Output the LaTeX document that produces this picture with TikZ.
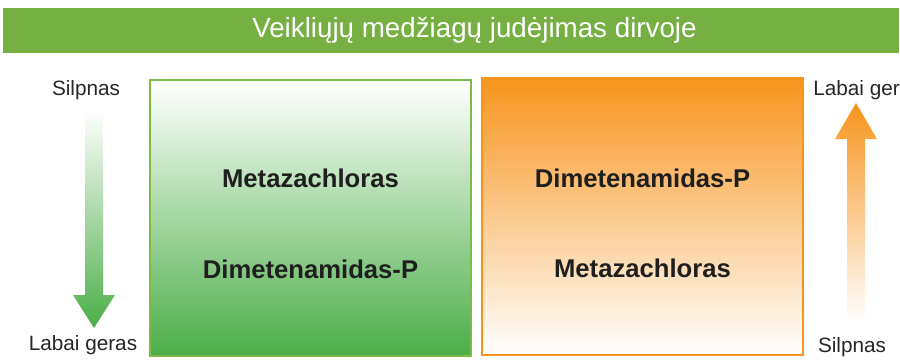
\documentclass[tikz,border=0pt]{standalone}
\usepackage{fontspec}
\setmainfont{Liberation Sans}
\usetikzlibrary{positioning}
\definecolor{barGreen}{HTML}{76B043}
\definecolor{boxGreen}{HTML}{7DBA4C}
\definecolor{fillGreen}{HTML}{4BAE47}
\definecolor{boxOrange}{HTML}{F7941D}

\begin{document}
\begin{tikzpicture}[x=0.02cm,y=-0.02cm]
		\useasboundingbox (0,0) rectangle (900,359);
		
		% title bar
		\node[fill=barGreen,minimum width=17.94cm,minimum height=0.9cm,inner sep=0] (bar) at (451,30.5) {};
		\node[text=white,font=\fontsize{15.8}{18}\selectfont] (title) at (474.5,30) {Veikliųjų medžiagų judėjimas dirvoje};
		
		% the two shaded boxes
		\node[draw=boxGreen,line width=1.2pt,top color=white,bottom color=fillGreen,minimum width=6.42cm,minimum height=5.52cm,inner sep=0] (leftbox) at (310.5,218) {};
		\node[draw=boxOrange,line width=1.2pt,top color=boxOrange,bottom color=white,minimum width=6.42cm,minimum height=5.54cm,inner sep=0] (rightbox) at (642.5,216.5) {};
		
		% substance names, top and bottom in each box
		\foreach \myname/\myx/\myy/\mytext in {lm/310.5/178/Metazachloras,ld/310.5/269/Dimetenamidas-P,rd/642.5/178/Dimetenamidas-P,rm/642.5/268/Metazachloras} {
			\node[font=\fontsize{14.6}{17}\selectfont\bfseries,text=black!88] (\myname) at (\myx,\myy) {\mytext};
		}
		
		% scale labels (the top right one runs off the edge, as in the source)
		\node[font=\fontsize{11.8}{14}\selectfont,text=black!85] (ltop) at (86,90) {Silpnas};
		\node[font=\fontsize{11.8}{14}\selectfont,text=black!85] (lbot) at (83,345) {Labai geras};
		\node[font=\fontsize{11.8}{14}\selectfont,text=black!85,anchor=west,inner sep=0] (rtop) at (813,90) {Labai geras};
		\node[font=\fontsize{11.8}{14}\selectfont,text=black!85] (rbot) at (852,347) {Silpnas};
		
		% arrows fading into white
		\shade[top color=white,bottom color=fillGreen] (85,110) -- (103,110) -- (103,295) -- (115,295) -- (94,328) -- (73,295) -- (85,295) -- cycle;
		\shade[top color=boxOrange,bottom color=white] (856,103) -- (877,139) -- (865,139) -- (865,322) -- (847,322) -- (847,139) -- (835,139) -- cycle;
\end{tikzpicture}
\end{document}
